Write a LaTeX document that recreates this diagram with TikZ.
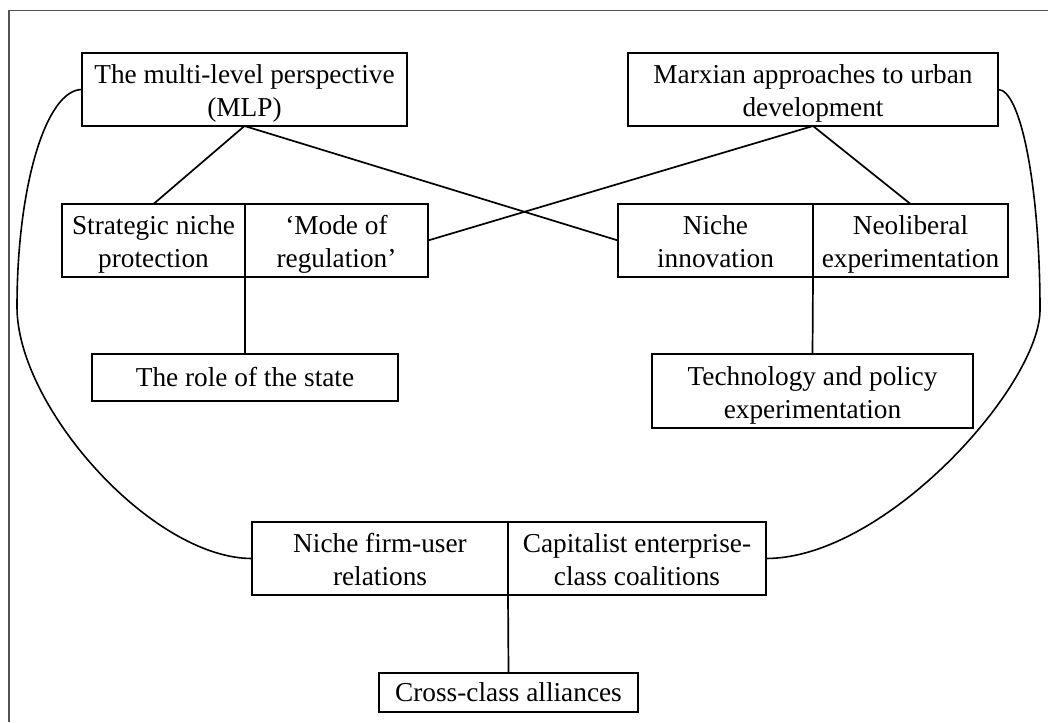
\documentclass[tikz,border=0pt]{standalone}
\usepackage{fontspec}
\setmainfont{Liberation Serif}
% fixed height of the first line and depth of the last line in two-line cells
\newcommand{\firstline}{\rule{0pt}{28.4pt}}
\newcommand{\lastline}{\rule[-7pt]{0pt}{7pt}}
\begin{document}
\begin{tikzpicture}[x=1pt,y=-1pt,
  cellbox/.style={draw, line width=2pt, rectangle, inner sep=0pt, outer sep=0pt,
    align=center, font=\fontsize{27.3pt}{32.8pt}\selectfont},
  joinline/.style={line width=1.7pt},
  arcline/.style={line width=1.6pt},
  frameline/.style={line width=1.3pt, draw=black!68}]
\useasboundingbox (0,0) rectangle (1048,722);

% frame
\draw[frameline] (9,722) -- (9,10.5) -- (1048,10.5);

% top row
\node[cellbox, minimum width=325pt, minimum height=73pt] (mlp) at (244.5,89.5)
  {\firstline The multi-level perspective\\(MLP)\lastline};
\node[cellbox, minimum width=370pt, minimum height=73pt] (marx) at (813,89.5)
  {\firstline Marxian approaches to urban\\development\lastline};

% second row
\node[cellbox, minimum width=183pt, minimum height=73pt] (snp) at (153.5,240.5)
  {\firstline Strategic niche\\protection\lastline};
\node[cellbox, minimum width=183pt, minimum height=73pt] (mor) at (336.5,240.5)
  {\firstline ‘Mode of\\regulation’\lastline};
\node[cellbox, minimum width=195pt, minimum height=73pt] (ni) at (715.5,240.5)
  {\firstline Niche\\innovation\lastline};
\node[cellbox, minimum width=195pt, minimum height=73pt] (ne) at (910.5,240.5)
  {\firstline Neoliberal\\experimentation\lastline};

% third row
\node[cellbox, minimum width=306pt, minimum height=47pt] (state) at (245,377.5)
  {The role of the state};
\node[cellbox, minimum width=321pt, minimum height=74pt] (tech) at (812.5,391)
  {\firstline Technology and policy\\experimentation\lastline};

% bottom rows
\node[cellbox, minimum width=256pt, minimum height=73pt] (fnu) at (380,558.5)
  {\firstline Niche firm-user\\relations\lastline};
\node[cellbox, minimum width=258pt, minimum height=73pt] (cap) at (637,558.5)
  {\firstline Capitalist enterprise-\\class coalitions\lastline};
\node[cellbox, minimum width=259pt, minimum height=39pt] (cross) at (508.5,692.5)
  {Cross-class alliances};

% straight connectors
\draw[joinline] (mlp.south) -- (snp.north);
\draw[joinline] (mlp.south) -- (ni.west);
\draw[joinline] (marx.south) -- (mor.east);
\draw[joinline] (marx.south) -- (ne.north);
\draw[joinline] (snp.south east) -- (state.north);
\draw[joinline] (ni.south east) -- (tech.north);
\draw[joinline] (fnu.south east) -- (cross.north);

% outer arcs
\coordinate (lbulge) at (17,307);
\coordinate (rbulge) at (1040,310);
\draw[arcline] (mlp.west)
  to[out=180, in=90, out distance=36pt, in distance=121pt] (lbulge)
  to[out=-90, in=180, out distance=100pt, in distance=100pt] (fnu.west);
\draw[arcline] (marx.east)
  to[out=0, in=90, out distance=23pt, in distance=122pt] (rbulge)
  to[out=-90, in=0, out distance=75pt, in distance=120pt] (cap.east);
\end{tikzpicture}
\end{document}
